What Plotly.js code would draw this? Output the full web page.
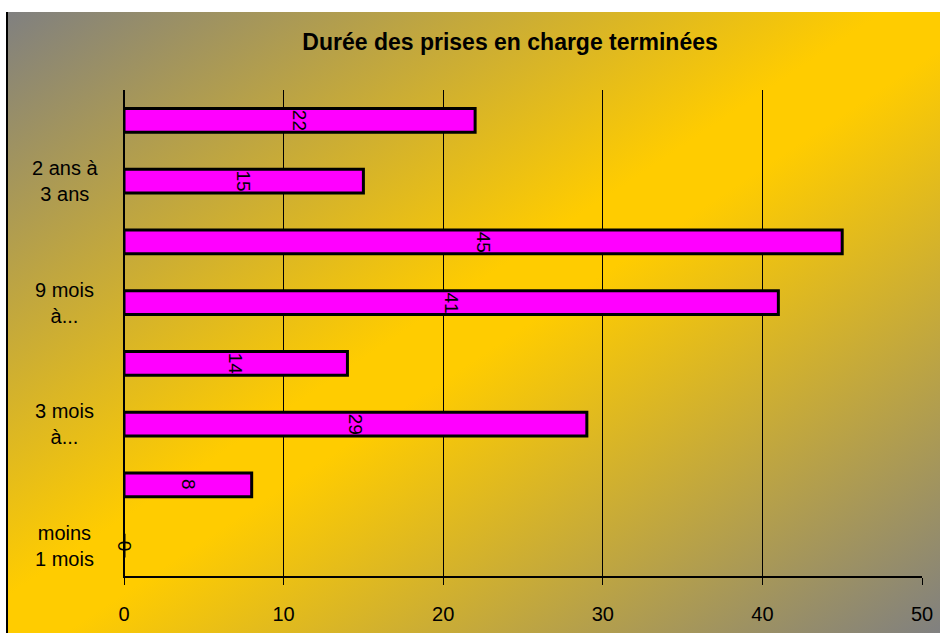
<!DOCTYPE html>
<html>
<head>
<meta charset="utf-8">
<script src="https://cdn.plot.ly/plotly-3.0.1.min.js"></script>
<style>
  html, body { margin: 0; padding: 0; background: #ffffff; }
  #wrap { position: relative; width: 940px; height: 633px; overflow: hidden; background: #ffffff; }
  #bg { position: absolute; left: 6px; top: 12px; right: 0; bottom: 0;
        border-left: 2px solid #000000;
        background: linear-gradient(to bottom right, #808080 0%, #ffcc00 47%, #ffcc00 53%, #808080 100%); }
  #chart { position: absolute; left: 0; top: 0; width: 940px; height: 633px; }
</style>
</head>
<body>
<div id="wrap">
  <div id="bg"></div>
  <div id="chart"></div>
</div>
<script>
// Categories from bottom to top
const categories = [
  "moins 1 mois",
  "1 mois à 3 mois",
  "3 mois à 6 mois",
  "6 mois à 9 mois",
  "9 mois à 1 an",
  "1 an à 2 ans",
  "2 ans à 3 ans",
  "plus de 3 ans"
];
const values = [0, 8, 29, 14, 41, 45, 15, 22];
const tickLabels = ["moins<br>1 mois", "", "3 mois<br>à...", "", "9 mois<br>à...", "", "2 ans à<br>3 ans", ""];
const xTicks = [0, 10, 20, 30, 40, 50];
const titleText = "Durée des prises en charge terminées";

const FONT = "Liberation Sans, Arial, Helvetica, sans-serif";

const trace = {
  type: "bar",
  orientation: "h",
  x: values,
  y: categories,
  width: 0.39,
  marker: { color: "#ff00ff", line: { color: "#000000", width: 3 } },
  hoverinfo: "x+y"
};

const annotations = [];
// value labels, rotated, centred on each bar
values.forEach((v, i) => {
  annotations.push({
    x: v / 2, y: categories[i], xref: "x", yref: "y",
    text: String(v), textangle: 90, showarrow: false,
    font: { family: FONT, size: 19, color: "#000000" },
    xanchor: "center", yanchor: "middle"
  });
});
// category labels (centred, multi-line)
tickLabels.forEach((t, i) => {
  if (!t) return;
  annotations.push({
    x: -0.074, y: categories[i], xref: "paper", yref: "y",
    text: t, showarrow: false, align: "center",
    font: { family: FONT, size: 20, color: "#000000" },
    xanchor: "center", yanchor: "middle"
  });
});

const layout = {
  width: 940, height: 633,
  margin: { l: 124, r: 18, t: 90, b: 57 },
  paper_bgcolor: "rgba(0,0,0,0)",
  plot_bgcolor: "rgba(0,0,0,0)",
  showlegend: false,
  title: {
    text: "<b>" + titleText + "</b>",
    font: { family: FONT, size: 23, color: "#000000" },
    xref: "container", yref: "container",
    x: 0.5426, y: 1 - 42 / 633, xanchor: "center", yanchor: "middle"
  },
  xaxis: {
    range: [0, 50],
    tickvals: xTicks,
    ticktext: xTicks.map(String),
    showgrid: true, gridcolor: "#000000", gridwidth: 1,
    zeroline: true, zerolinecolor: "#000000", zerolinewidth: 1,
    showline: true, linecolor: "#000000", linewidth: 2,
    ticks: "outside", ticklen: 7, tickcolor: "#000000", tickwidth: 1,
    ticklabelstandoff: 12,
    tickfont: { family: FONT, size: 20, color: "#000000" },
    fixedrange: true
  },
  yaxis: {
    type: "category",
    categoryorder: "array",
    categoryarray: categories,
    range: [-0.5, categories.length - 0.5],
    showticklabels: false,
    showgrid: false, zeroline: false,
    showline: true, linecolor: "#000000", linewidth: 1,
    ticks: "",
    fixedrange: true
  },
  annotations: annotations
};

Plotly.newPlot("chart", [trace], layout, { displayModeBar: false, staticPlot: true });
</script>
</body>
</html>
